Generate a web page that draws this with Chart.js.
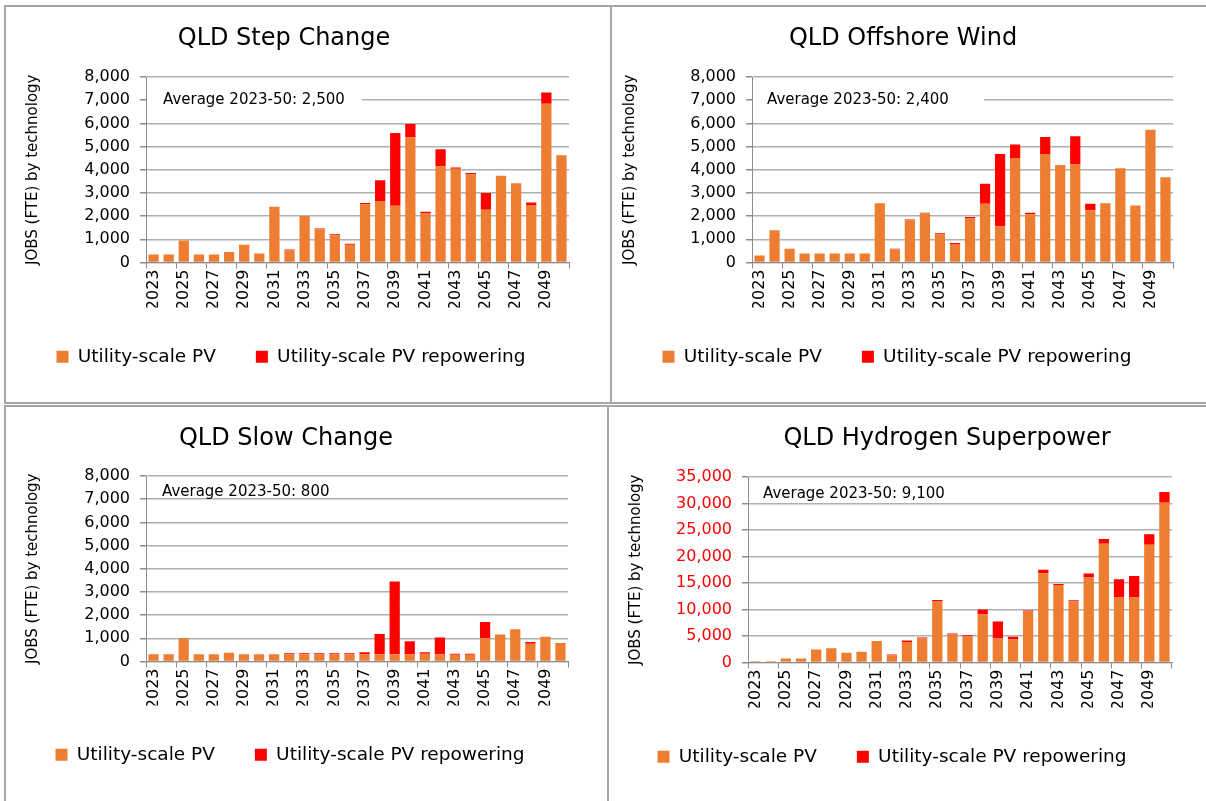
<!DOCTYPE html>
<html><head><meta charset="utf-8">
<script src="https://cdn.jsdelivr.net/npm/chart.js@4.4.1/dist/chart.umd.min.js"></script>
<style>
html,body{margin:0;padding:0;background:#fff;}
#page{position:relative;width:1206px;height:801px;overflow:hidden;background:#fff;}
.frame{position:absolute;box-sizing:border-box;border:2px solid #a6a6a6;}
canvas{position:absolute;}
</style></head><body>
<div id="page">
  <div class="frame" style="left:4px;top:5px;width:608px;height:399px;"></div>
  <div class="frame" style="left:610px;top:5px;width:610px;height:399px;"></div>
  <div class="frame" style="left:4px;top:405px;width:605px;height:410px;"></div>
  <div class="frame" style="left:607px;top:405px;width:610px;height:410px;"></div>
  <canvas id="c1" width="600" height="394" style="left:6px;top:7px;"></canvas>
  <canvas id="c2" width="593" height="394" style="left:613px;top:7px;"></canvas>
  <canvas id="c3" width="600" height="394" style="left:6px;top:407px;"></canvas>
  <canvas id="c4" width="596" height="394" style="left:610px;top:407px;"></canvas>
</div>
<script>
const years = ['2023','2024','2025','2026','2027','2028','2029','2030','2031','2032','2033','2034','2035','2036','2037','2038','2039','2040','2041','2042','2043','2044','2045','2046','2047','2048','2049','2050'];
const tickLabels = ['2023','','2025','','2027','','2029','','2031','','2033','','2035','','2037','','2039','','2041','','2043','','2045','','2047','','2049',''];
const seriesNames = ['Utility-scale PV', 'Utility-scale PV repowering'];

const stepPV  = [350,350,950,350,350,450,770,390,2400,530,1980,1430,1180,770,2500,2650,2450,5400,2110,4150,4040,3810,2270,3740,3420,2480,6850,4630];
const stepRep = [0,0,0,0,0,0,0,0,0,30,30,40,40,40,70,900,3130,570,80,730,60,50,730,0,0,110,480,0];

const offPV  = [300,1390,590,390,390,390,390,390,2560,570,1820,2120,1220,800,1900,2530,1560,4510,2070,4680,4180,4230,2250,2560,4060,2460,5720,3680];
const offRep = [0,0,0,0,0,0,0,0,0,20,30,30,40,40,60,870,3120,580,80,730,30,1220,280,0,0,0,0,0];

const slowPV  = [310,310,1000,310,310,380,310,310,310,310,310,310,310,310,310,310,310,310,330,310,290,290,1000,1160,1390,770,1070,800];
const slowRep = [0,0,0,0,0,0,0,0,0,50,50,50,50,50,90,880,3140,560,70,730,40,40,700,0,0,70,0,0];

const hydPV  = [250,250,750,750,2450,2700,1820,2010,4080,1380,3890,4520,11620,5280,4960,9110,4520,4330,9610,16830,14640,11560,16020,22420,12250,12250,22240,30150];
const hydRep = [0,0,0,0,0,0,0,0,0,130,260,190,190,180,190,880,3210,510,190,690,180,190,750,880,3450,4080,1940,2010];

const titles = ['QLD Step Change','QLD Offshore Wind','QLD Slow Change','QLD Hydrogen Superpower'];
const notes = ['Average 2023-50: 2,500','Average 2023-50: 2,400','Average 2023-50: 800','Average 2023-50: 9,100'];

Chart.defaults.font.family = '"DejaVu Sans", sans-serif';
Chart.defaults.color = '#000';

const ORANGE = '#ED7D31', RED = '#FF0000', GRID = '#b0b0b0', AXIS = '#8c8c8c';

const panelText = {
  id: 'panelText',
  beforeDatasetsDraw(chart, args, o) {
    const ctx = chart.ctx, ca = chart.chartArea;
    const yy = chart.scales.y.getPixelForValue(o.noteValue);
    ctx.save();
    if (o.maskW) {
      ctx.fillStyle = '#fff';
      ctx.fillRect(ca.left + 1, yy - 9, o.maskW - 1, 18);
    }
    ctx.font = '15px "DejaVu Sans"';
    ctx.fillStyle = '#000';
    ctx.textAlign = 'left';
    ctx.textBaseline = 'middle';
    ctx.fillText(o.note, ca.left + o.noteDx, yy);
    ctx.restore();
  },
  afterDraw(chart, args, o) {
    const ctx = chart.ctx;
    ctx.save();
    ctx.font = '24px "DejaVu Sans"';
    ctx.fillStyle = '#000';
    ctx.textAlign = 'center';
    ctx.textBaseline = 'alphabetic';
    ctx.fillText(o.title, o.titleX, o.titleY);
    ctx.restore();
  }
};

function makeChart(id, pv, rep, g) {
  new Chart(document.getElementById(id), {
    type: 'bar',
    data: {
      labels: years,
      datasets: [
        {label: seriesNames[0], data: pv, backgroundColor: ORANGE, borderWidth: 0},
        {label: seriesNames[1], data: rep, backgroundColor: RED, borderWidth: 0}
      ]
    },
    options: {
      responsive: false,
      animation: false,
      events: [],
      layout: {padding: {left: g.padL, right: g.padR, top: g.padT, bottom: g.padB}},
      datasets: {bar: {categoryPercentage: 1, barPercentage: 0.68}},
      scales: {
        x: {
          stacked: true,
          offset: true,
          afterFit: s => { s.height = g.xH; },
          grid: {
            offset: true,
            drawOnChartArea: false,
            drawTicks: true,
            tickLength: 6,
            tickColor: c => (c.index === undefined || c.index % 2 === 0) ? AXIS : 'rgba(0,0,0,0)',
            tickWidth: 1
          },
          border: {display: true, color: AXIS, width: 1},
          ticks: {
            autoSkip: false,
            maxRotation: 90,
            minRotation: 90,
            padding: 1,
            font: {size: 16},
            color: '#000',
            callback: (v, i) => tickLabels[i]
          }
        },
        y: {
          stacked: true,
          min: 0,
          max: g.max,
          afterFit: s => { s.width = g.yW; },
          grid: {color: GRID, lineWidth: 1.5, tickLength: 6, drawTicks: true, tickColor: AXIS},
          border: {display: true, color: AXIS, width: 1},
          ticks: {
            stepSize: g.step,
            padding: 10,
            font: {size: 16},
            color: g.tickColor,
            callback: v => v.toLocaleString('en-US')
          },
          title: {
            display: true,
            text: 'JOBS (FTE) by technology',
            font: {size: 15},
            color: '#000',
            padding: {top: g.yTitlePad, bottom: 0}
          }
        }
      },
      plugins: {
        legend: {
          position: 'bottom',
          labels: {boxWidth: 12, boxHeight: 12, padding: 40, font: {size: 18.5}, color: '#000'}
        },
        tooltip: {enabled: false},
        title: {display: false},
        panelText: {
          title: g.title, titleX: g.titleX, titleY: g.titleY,
          note: g.note, noteValue: g.noteValue, noteDx: g.noteDx, maskW: g.maskW
        }
      }
    },
    plugins: [panelText]
  });
}

makeChart('c1', stepPV, stepRep, {
  padL: 7, padR: 37, padT: 70, padB: 25, xH: 45, yW: 133, yTitlePad: 11,
  max: 8000, step: 1000, tickColor: '#000',
  title: titles[0], titleX: 278, titleY: 38,
  note: notes[0], noteValue: 7000, noteDx: 17, maskW: 216
});
makeChart('c2', offPV, offRep, {
  padL: 8, padR: 33, padT: 70, padB: 25, xH: 45, yW: 131, yTitlePad: 0,
  max: 8000, step: 1000, tickColor: '#000',
  title: titles[1], titleX: 290, titleY: 38,
  note: notes[1], noteValue: 7000, noteDx: 15, maskW: 232
});
makeChart('c3', slowPV, slowRep, {
  padL: 6, padR: 38, padT: 69, padB: 27, xH: 44, yW: 134, yTitlePad: 12,
  max: 8000, step: 1000, tickColor: '#000',
  title: titles[2], titleX: 280, titleY: 38,
  note: notes[2], noteValue: 7300, noteDx: 16, maskW: 0
});
makeChart('c4', hydPV, hydRep, {
  padL: 2, padR: 34, padT: 70, padB: 25, xH: 45, yW: 136, yTitlePad: 15,
  max: 35000, step: 5000, tickColor: '#FF0000',
  title: titles[3], titleX: 337, titleY: 38,
  note: notes[3], noteValue: 31800, noteDx: 15, maskW: 0
});
</script>
</body></html>
